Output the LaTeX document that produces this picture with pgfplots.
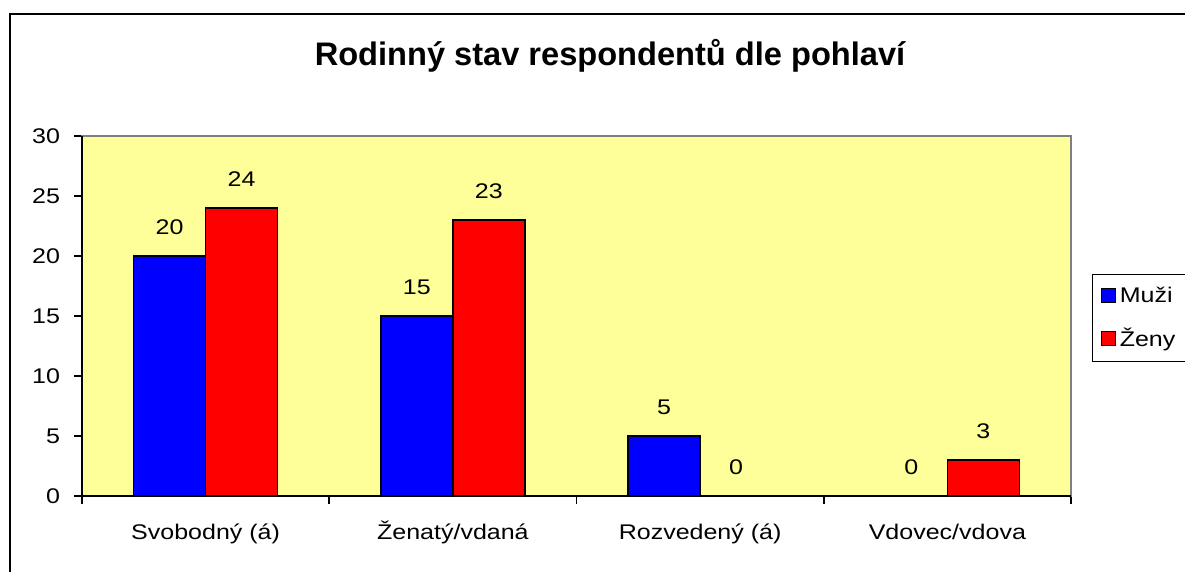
\documentclass[border=0pt]{standalone}
\usepackage{fontspec}
\setmainfont{Liberation Sans}
\newfontfamily\lab[FakeStretch=1.18]{Liberation Sans}
\usepackage{pgfplots}
\pgfplotsset{compat=1.18}
\definecolor{plotbg}{HTML}{FFFF99}
\definecolor{muzi}{HTML}{0000FF}
\definecolor{zeny}{HTML}{FF0000}
\begin{document}
\begin{tikzpicture}
\useasboundingbox (0,0) rectangle (592.5pt,286pt);
\fill[white] (0,0) rectangle (592.5pt,286pt);
\draw[black,line width=1pt] (5pt,0) -- (5pt,279pt) -- (592.5pt,279pt);
\node[anchor=base,font=\fontsize{16.3}{19}\selectfont\bfseries] at (305pt,253pt) {Rodinný stav respondentů dle pohlaví};
\begin{axis}[
  at={(41pt,38pt)}, anchor=south west,
  scale only axis, width=494.5pt, height=180pt,
  ybar=0pt, bar width=36pt,
  xmin=-0.5, xmax=3.5, ymin=0, ymax=30,
  ytick={0,5,...,30},
  xtick={0,1,2,3},
  xticklabels={Svobodný (á),Ženatý/vdaná,Rozvedený (á),Vdovec/vdova},
  minor xtick={-0.5,0.5,1.5,2.5,3.5},
  xtick pos=bottom, ytick pos=left,
  major tick length=4pt, minor tick length=4pt,
  tick align=outside,
  x tick style={draw=none},
  minor x tick style={draw=black,line width=0.8pt},
  y tick style={draw=black,line width=0.8pt},
  /pgf/number format/assume math mode=true,
  ticklabel style={font=\fontsize{10.6}{12}\lab},
  yticklabel style={xshift=-3.5pt},
  xticklabel style={yshift=-6pt,text height=8pt,text depth=2.5pt},
  axis background/.style={fill=plotbg},
  axis line style={draw=gray,line width=1pt},
  nodes near coords,
  every node near coord/.append style={font=\fontsize{10.6}{12}\lab,yshift=7pt,black},
  legend style={at={(1.0212,0.6167)},anchor=north west,draw=black,fill=white,
    font=\fontsize{10.6}{12}\lab,row sep=7.5pt,inner sep=4pt,line width=0.6pt},
  legend cell align=left,
  legend image code/.code={\draw[#1,draw=black,line width=0.6pt] (0pt,-3.5pt) rectangle (7pt,3.5pt);},
  clip=false,
]
\addplot[fill=muzi,draw=black,line width=0.75pt] coordinates {(0,20) (1,15) (2,5) (3,0)};
\addplot[fill=zeny,draw=black,line width=0.75pt] coordinates {(0,24) (1,23) (2,0) (3,3)};
\legend{Muži,Ženy}
\draw[black,line width=1pt] (rel axis cs:0,1) -- (rel axis cs:0,0) -- (rel axis cs:1,0);
\end{axis}
\end{tikzpicture}
\end{document}
